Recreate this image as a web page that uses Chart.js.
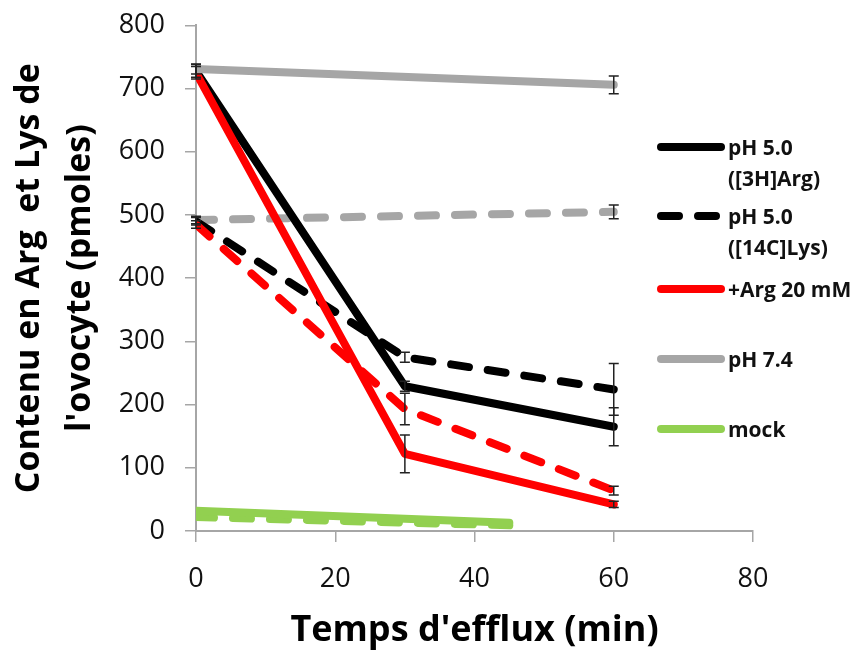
<!DOCTYPE html>
<html>
<head>
<meta charset="utf-8">
<script src="https://cdn.jsdelivr.net/npm/chart.js@4.4.1/dist/chart.umd.min.js"></script>
<style>
  html, body { margin: 0; padding: 0; background: #fff; }
  #wrap { position: relative; width: 852px; height: 652px; }
  #legend { position: absolute; left: 655px; top: 0; font-family: "Open Sans", sans-serif; font-weight: bold; font-size: 21px; color: #111; }
  .item { position: absolute; left: 0; display: flex; align-items: flex-start; white-space: nowrap; line-height: 31px; }
  .item svg { flex: none; margin-top: 9px; }
  .item span { margin-left: 1px; }
</style>
</head>
<body>
<div id="wrap">
  <canvas id="chart" width="852" height="652"></canvas>
  <div id="legend"></div>
</div>
<script>
// time points (min)
const timeMin = [0, 30, 60];
const timeShort = [0, 60];
const timeMock = [0, 45];

// content (pmoles)
const argPH5 = [728, 229, 165];
const argPH5Err = [10, 8, 30];
const lysPH5 = [490, 275, 224];
const lysPH5Err = [6, 8, 41];
const argInhib = [725, 122, 42];
const argInhibErr = [10, 30, 5];
const lysInhib = [485, 193, 64];
const lysInhibErr = [6, 25, 7];
const argPH74 = [731, 706];
const argPH74Err = [8, 14];
const lysPH74 = [492, 505];
const lysPH74Err = [6, 11];
const mockArg = [32, 13];
const mockLys = [22, 9];

const xTicks = [0, 20, 40, 60, 80];
const yTicks = [0, 100, 200, 300, 400, 500, 600, 700, 800];

const BLACK = "#000000";
const RED = "#ff0000";
const GREY = "#a6a6a6";
const GREEN = "#92d050";
const DASH = [18, 19];

function pts(xs, ys) {
  return xs.map((x, i) => ({ x: x, y: ys[i] }));
}

function line(label, xs, ys, color, dashed, order, err) {
  return {
    label: label,
    data: pts(xs, ys),
    err: err || null,
    borderColor: color,
    backgroundColor: color,
    borderWidth: 8,
    borderDash: dashed ? DASH : [],
    borderCapStyle: "round",
    borderJoinStyle: "round",
    pointRadius: 0,
    tension: 0,
    order: order
  };
}

const datasets = [
  line("mock lys", timeMock, mockLys, GREEN, true, 10),
  line("mock", timeMock, mockArg, GREEN, false, 9),
  line("pH 7.4 lys", timeShort, lysPH74, GREY, true, 8, lysPH74Err),
  line("pH 5.0 ([14C]Lys)", timeMin, lysPH5, BLACK, true, 7, lysPH5Err),
  line("+Arg lys", timeMin, lysInhib, RED, true, 6, lysInhibErr),
  line("pH 5.0 ([3H]Arg)", timeMin, argPH5, BLACK, false, 5, argPH5Err),
  line("+Arg 20 mM", timeMin, argInhib, RED, false, 4, argInhibErr),
  line("pH 7.4", timeShort, argPH74, GREY, false, 3, argPH74Err)
];

// error bars, drawn through the scales
const errorBars = {
  id: "errorBars",
  afterDatasetsDraw(chart) {
    const ctx = chart.ctx;
    const xs = chart.scales.x, ys = chart.scales.y;
    ctx.save();
    ctx.strokeStyle = "#222";
    ctx.lineWidth = 1.5;
    chart.data.datasets.forEach(ds => {
      if (!ds.err) return;
      ds.data.forEach((p, i) => {
        const e = ds.err[i];
        if (!e) return;
        const px = xs.getPixelForValue(p.x);
        const top = ys.getPixelForValue(p.y + e);
        const bot = ys.getPixelForValue(p.y - e);
        ctx.beginPath();
        ctx.moveTo(px, top); ctx.lineTo(px, bot);
        ctx.moveTo(px - 5, top); ctx.lineTo(px + 5, top);
        ctx.moveTo(px - 5, bot); ctx.lineTo(px + 5, bot);
        ctx.stroke();
      });
    });
    ctx.restore();
  }
};

new Chart(document.getElementById("chart"), {
  type: "line",
  data: { datasets: datasets },
  plugins: [errorBars],
  options: {
    responsive: false,
    animation: false,
    layout: { padding: { top: 0, right: 99, bottom: 0, left: 0 } },
    plugins: { legend: { display: false }, tooltip: { enabled: false } },
    scales: {
      x: {
        type: "linear",
        min: 0, max: 80,
        afterBuildTicks: s => { s.ticks = xTicks.map(v => ({ value: v })); },
        afterFit: s => { s.height = 121; },
        ticks: { font: { family: "Open Sans", size: 27 }, color: "#111", padding: 21 },
        grid: { drawOnChartArea: false, color: GREY, lineWidth: 1.5, tickLength: 11 },
        border: { color: GREY, width: 2 },
        title: {
          display: true,
          text: "Temps d'efflux (min)",
          font: { family: "Open Sans", size: 36, weight: "bold" },
          color: "#000",
          padding: { top: 0, bottom: 0 }
        }
      },
      y: {
        min: 0, max: 800,
        afterBuildTicks: s => { s.ticks = yTicks.map(v => ({ value: v })); },
        afterFit: s => { s.width = 196; },
        ticks: { font: { family: "Open Sans", size: 27, lineHeight: 0.4 }, color: "#111", padding: 20 },
        grid: { drawOnChartArea: false, color: GREY, lineWidth: 1.5, tickLength: 11 },
        border: { color: GREY, width: 2 },
        title: {
          display: true,
          text: ["Contenu en Arg  et Lys de", "l'ovocyte (pmoles)"],
          font: { family: "Open Sans", size: 34, weight: "bold", lineHeight: 1.5 },
          color: "#000",
          padding: { top: 4, bottom: 0 }
        }
      }
    }
  }
});

// legend (only the five named series, as in the figure)
const legendItems = [
  { text: ["pH 5.0", "([3H]Arg)"], color: BLACK, dashed: false, top: 132 },
  { text: ["pH 5.0", "([14C]Lys)"], color: BLACK, dashed: true, top: 201 },
  { text: ["+Arg 20 mM"], color: RED, dashed: false, top: 274 },
  { text: ["pH 7.4"], color: GREY, dashed: false, top: 344 },
  { text: ["mock"], color: GREEN, dashed: false, top: 414 }
];

const legendEl = document.getElementById("legend");
legendItems.forEach(it => {
  const div = document.createElement("div");
  div.className = "item";
  div.style.top = it.top + "px";
  const dash = it.dashed ? 'stroke-dasharray="18 19"' : "";
  div.innerHTML = `
    <svg width="72" height="12"><line x1="6" y1="6" x2="66" y2="6" stroke="${it.color}" stroke-width="8" stroke-linecap="round" ${dash}/></svg>
    <span>${it.text.join("<br>")}</span>
  `;
  legendEl.appendChild(div);
});
</script>
</body>
</html>
